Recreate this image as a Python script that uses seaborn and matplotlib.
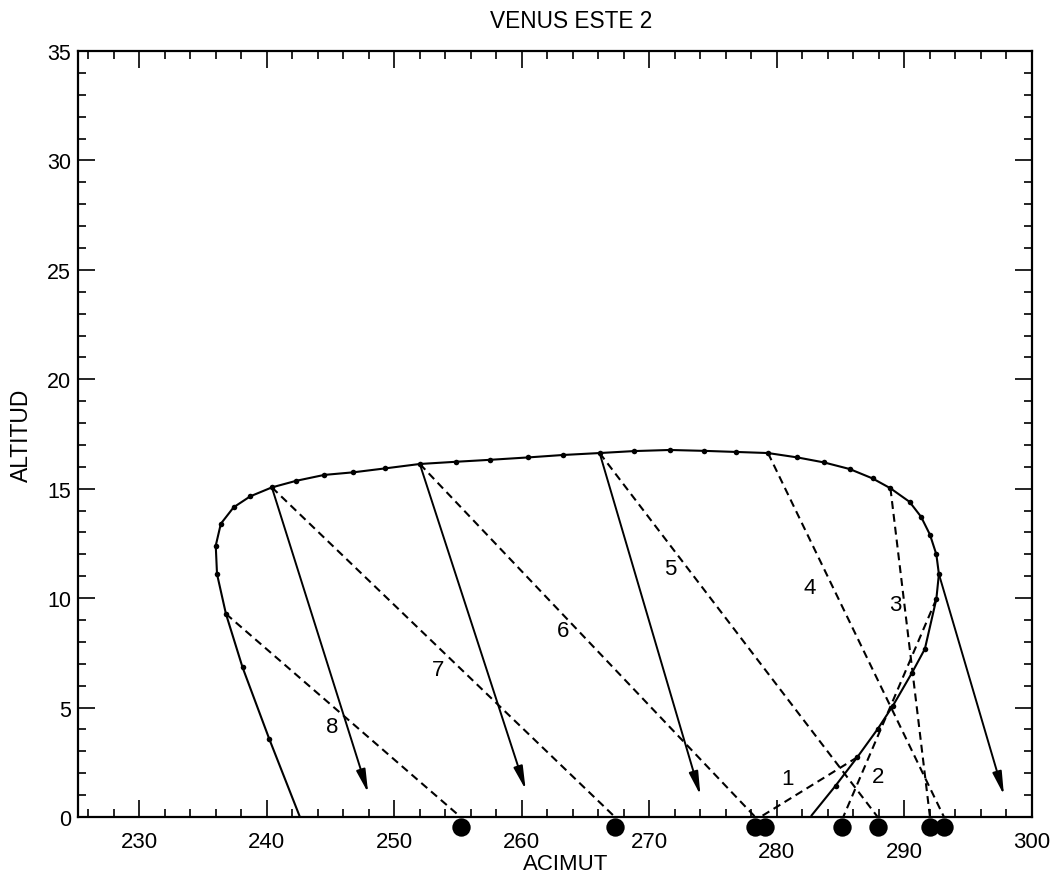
import matplotlib
matplotlib.use("Agg")
import matplotlib.pyplot as plt
import matplotlib.transforms as mtransforms
from matplotlib.ticker import MultipleLocator
import seaborn as sns
import pandas as pd

sns.set_theme(style="ticks")
plt.rcParams['font.family'] = ['Liberation Sans', 'DejaVu Sans']
plt.rcParams.update({'text.color': 'black', 'axes.labelcolor': 'black',
                     'xtick.color': 'black', 'ytick.color': 'black',
                     'axes.edgecolor': 'black'})

# ---------------- data ----------------
title = "VENUS ESTE 2"
x_label = "ACIMUT"
y_label = "ALTITUD"

# Venus path (azimuth, altitude)
curve_az = [242.6, 240.2, 238.1, 236.8, 236.1, 236.0, 236.4, 237.4, 238.7, 240.4,
            242.3, 244.5, 246.8, 249.3, 252.0, 254.8, 257.5, 260.5, 263.2, 266.1,
            268.8, 271.6, 274.3, 276.8, 279.3, 281.6, 283.7, 285.7, 287.5, 288.9,
            290.4, 291.3, 292.0, 292.5, 292.7, 292.5, 291.6, 290.6, 289.1, 287.9,
            286.3, 284.6, 282.7]
curve_alt = [0.0, 3.56, 6.84, 9.28, 11.1, 12.4, 13.4, 14.15, 14.65, 15.06,
             15.36, 15.63, 15.75, 15.93, 16.13, 16.23, 16.32, 16.43, 16.54, 16.63,
             16.72, 16.77, 16.73, 16.68, 16.63, 16.43, 16.2, 15.9, 15.47, 15.02,
             14.4, 13.72, 12.9, 12.0, 11.1, 9.96, 7.68, 6.6, 5.09, 4.02,
             2.73, 1.43, 0.06]

# numbered dashed paths to the horizon
line_no = ["1", "2", "3", "4", "5", "6", "7", "8"]
dash_start_az = [286.3, 292.5, 288.9, 279.3, 266.1, 252.0, 240.4, 236.8]
dash_start_alt = [2.73, 9.96, 15.02, 16.63, 16.63, 16.13, 15.06, 9.28]
dash_end_az = [278.7, 285.2, 292.0, 293.1, 287.9, 278.3, 267.3, 255.2]
dash_end_alt = [0, 0, 0, 0, 0, 0, 0, 0]
label_az = [280.8, 287.9, 289.3, 282.6, 271.6, 263.2, 253.4, 245.1]
label_alt = [1.75, 1.85, 9.7, 10.5, 11.35, 8.5, 6.75, 4.15]

# horizon setting points
dot_az = [255.2, 267.3, 278.3, 279.1, 285.1, 287.9, 292.0, 293.1]
dot_alt = [-0.45] * 8

# solid arrows
arrow_start_az = [240.4, 252.0, 266.1, 292.7]
arrow_start_alt = [15.06, 16.13, 16.63, 11.1]
arrow_end_az = [247.95, 260.3, 274.0, 297.8]
arrow_end_alt = [1.1, 1.25, 1.0, 1.0]

x_ticks = [230, 240, 250, 260, 270, 280, 290, 300]
y_ticks = [0, 5, 10, 15, 20, 25, 30, 35]
shifted_xlabels = ["280", "290"]

# ---------------- figure ----------------
fig = plt.figure(figsize=(10.55, 8.79), dpi=100)
ax = fig.add_axes([78 / 1055, 61 / 879, 954 / 1055, 766 / 879])
ax.set_facecolor("white")

curve = pd.DataFrame({"az": curve_az, "alt": curve_alt})
sns.lineplot(data=curve, x="az", y="alt", sort=False, estimator=None,
             color="black", linewidth=1.5, ax=ax)
sns.scatterplot(x=curve_az[1:-1], y=curve_alt[1:-1], color="black", s=16,
                linewidth=0, ax=ax, zorder=3)

for i in range(len(line_no)):
    seg = pd.DataFrame({"az": [dash_start_az[i], dash_end_az[i]],
                        "alt": [dash_start_alt[i], dash_end_alt[i]]})
    sns.lineplot(data=seg, x="az", y="alt", sort=False, estimator=None,
                 color="black", linewidth=1.5, linestyle=(0, (3.8, 2.4)), ax=ax)
    ax.text(label_az[i], label_alt[i], line_no[i], fontsize=16, color="black",
            ha="center", va="center")

for i in range(len(arrow_start_az)):
    ax.annotate("", xy=(arrow_end_az[i], arrow_end_alt[i]),
                xytext=(arrow_start_az[i], arrow_start_alt[i]),
                arrowprops=dict(arrowstyle="-|>,head_length=1.4,head_width=0.28",
                                color="black", lw=1.4, shrinkA=0, shrinkB=0,
                                mutation_scale=10))

sns.scatterplot(x=dot_az, y=dot_alt, color="black", s=175, linewidth=0,
                ax=ax, zorder=5, clip_on=False)

ax.set_xlim(225.2, 300)
ax.set_ylim(0, 35)
ax.set_xticks(x_ticks)
ax.set_yticks(y_ticks)
ax.xaxis.set_minor_locator(MultipleLocator(2))
ax.yaxis.set_minor_locator(MultipleLocator(1))
ax.tick_params(which="both", direction="in", top=True, right=True,
               color="black", labelcolor="black", width=1.2)
ax.tick_params(which="major", length=12)
ax.tick_params(which="minor", length=5.5)
ax.tick_params(axis="x", which="major", labelsize=16, pad=10)
ax.tick_params(axis="y", which="major", labelsize=15.5, pad=5)
for s in ax.spines.values():
    s.set_color("black")
    s.set_linewidth(1.6)

ax.set_xlabel(x_label, fontsize=16, color="black")
ax.set_ylabel(y_label, fontsize=16.5, color="black")
ax.xaxis.set_label_coords(0.5115, -0.047)
ax.yaxis.set_label_coords(-0.047, 0.5)
ax.set_title(title, fontsize=16.3, x=0.517, pad=17, color="black")

off = mtransforms.ScaledTranslation(0, -10 / 100, fig.dpi_scale_trans)
for lab in ax.get_xticklabels():
    if lab.get_text() in shifted_xlabels:
        lab.set_transform(lab.get_transform() + off)

fig.savefig("out.png", dpi=100, facecolor="white")
